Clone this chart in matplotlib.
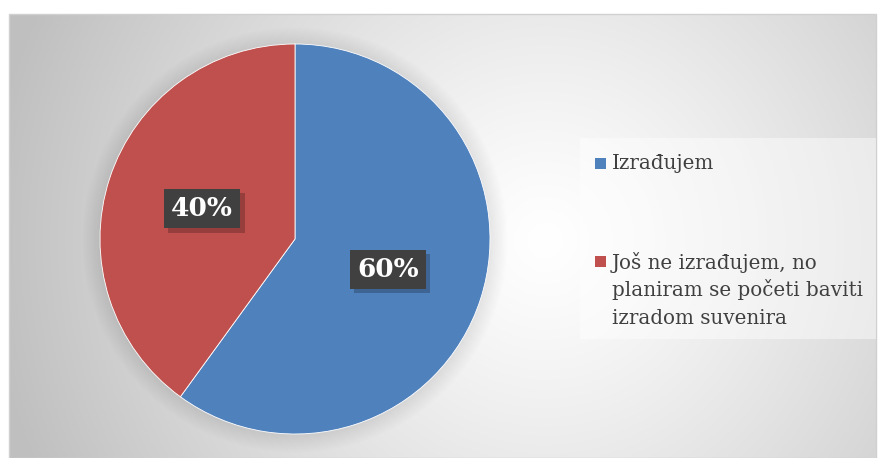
import numpy as np
import matplotlib
matplotlib.use("Agg")
import matplotlib.pyplot as plt
from matplotlib.patches import Rectangle, Circle
import matplotlib.patheffects as pe

categories = ["Izrađujem", "Još ne izrađujem, no\nplaniram se početi baviti\nizradom suvenira"]
values = [60, 40]
colors = ["#4F81BD", "#C0504D"]

W, H = 879, 458
fig = plt.figure(figsize=(W / 100, H / 100), dpi=100)
fig.patch.set_facecolor("white")

def fx(px):
    return px / W

def fy(py):
    return 1 - py / H

# background frame with radial gradient
x0, x1, y0, y1 = 9, 876, 14, 458
bg = fig.add_axes([fx(x0), fy(y1), fx(x1 - x0), (y1 - y0) / H])
bg.set_axis_off()
xx, yy = np.meshgrid(np.arange(x0, x1), np.arange(y0, y1))
cx, cy = 545, 240
d = np.sqrt(((xx - cx) / 560) ** 2 + ((yy - cy) / 560) ** 2)
g = 1.0 - 0.25 * np.clip(d, 0, 1) ** 1.2
img = np.dstack([g, g, g])
bg.imshow(img, aspect="auto", extent=[0, 1, 0, 1], origin="upper")
bg.set_xlim(0, 1)
bg.set_ylim(0, 1)
fig.add_artist(Rectangle((fx(x0), fy(y1)), fx(x1 - x0), (y1 - y0) / H,
                         transform=fig.transFigure, fill=False,
                         ec="#d0d0d0", lw=1.0))

# pie
pcx, pcy, r = 295, 239, 195
ax = fig.add_axes([fx(pcx - r), fy(pcy + r), fx(2 * r), 2 * r / H])
ax.set_xlim(-1, 1)
ax.set_ylim(-1, 1)
ax.set_axis_off()
ax.patch.set_alpha(0)

# soft shadow halo
for k in range(10):
    rr = 1.0 + 0.009 * (k + 1)
    ax.add_patch(Circle((0.0, -0.005), rr, fc="black", ec="none",
                        alpha=0.007, zorder=0, clip_on=False))

wedges, texts, autotexts = ax.pie(
    values, colors=colors, startangle=90, counterclock=False,
    autopct="%1.0f%%", pctdistance=0.5, radius=1.0,
    wedgeprops=dict(linewidth=0.6, edgecolor="white"),
    textprops=dict(color="white", fontsize=19, fontweight="bold",
                   family="DejaVu Serif"))
for w in wedges:
    w.set_zorder(2)
for t in autotexts:
    t.set_zorder(5)
    t.set_bbox(dict(boxstyle="square,pad=0.27", fc="#404040", ec="none"))
    t.get_bbox_patch().set_path_effects(
        [pe.SimplePatchShadow(offset=(3, -3), shadow_rgbFace="black", alpha=0.22),
         pe.Normal()])
ax.set_xlim(-1, 1)
ax.set_ylim(-1, 1)

# legend box
lx0, lx1, ly0, ly1 = 580, 876, 138, 339
fig.add_artist(Rectangle((fx(lx0), fy(ly1)), fx(lx1 - lx0), (ly1 - ly0) / H,
                         transform=fig.transFigure, fc="white", ec="none",
                         alpha=0.45))

sq_tops = [158, 256]
first_baselines = [169, 269]
line_step = 27.5
for i, (lab, col) in enumerate(zip(categories, colors)):
    fig.add_artist(Rectangle((fx(595), fy(sq_tops[i] + 11)), fx(11), 11 / H,
                             transform=fig.transFigure, fc=col, ec="none"))
    for j, line in enumerate(lab.split("\n")):
        fig.text(fx(612), fy(first_baselines[i] + j * line_step), line,
                 ha="left", va="baseline", fontsize=14.3, color="#404040",
                 family="DejaVu Serif")

fig.savefig("out.png", dpi=100)
